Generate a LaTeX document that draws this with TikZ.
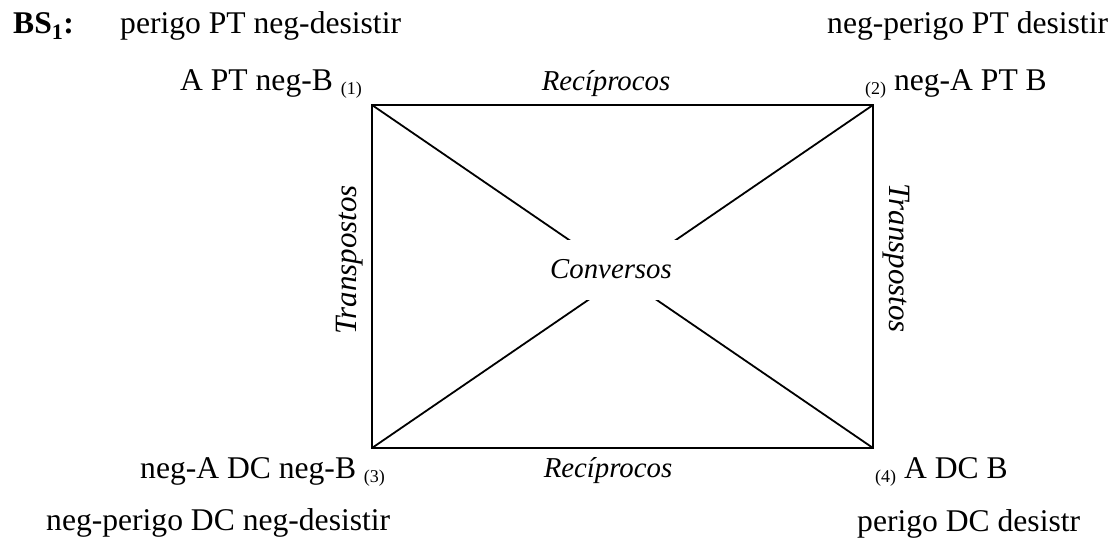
\documentclass[tikz,border=0pt]{standalone}
\usepackage{fontspec}
\setmainfont{Liberation Serif}
\begin{document}
\begin{tikzpicture}[x=1pt,y=-1pt,
  lbl/.style={inner sep=0pt, font=\fontsize{31.6}{36}\selectfont},
  ital/.style={inner sep=0pt, font=\fontsize{28.8}{34}\selectfont\itshape},
  edge/.style={line width=1.8pt, line cap=round, line join=miter}]
\useasboundingbox (0,0) rectangle (1117,541);
\newcommand{\idx}[1]{{\fontsize{18}{20}\selectfont\raisebox{-4pt}{#1}}}
% corners
\coordinate (tl) at (372,105);
\coordinate (tr) at (873,105);
\coordinate (bl) at (372,448);
\coordinate (br) at (873,448);
% header
\node[lbl, anchor=base west] (bs) at (13,33) {\textbf{BS\textsubscript{1}:}};
\node[lbl, anchor=base west] (h1) at (120,33) {perigo PT neg-desistir};
\node[lbl, anchor=base west] (h2) at (827,33) {neg-perigo PT desistir};
% corner labels
\node[lbl, anchor=base west] (c1) at (180,90) {A PT neg-B \idx{(1)}};
\node[lbl, anchor=base west] (c2) at (865,90) {\idx{(2)} neg-A PT B};
\node[lbl, anchor=base west] (c3) at (140,478) {neg-A DC neg-B \idx{(3)}};
\node[lbl, anchor=base west] (c4) at (875,478) {\idx{(4)} A DC B};
% footer
\node[lbl, anchor=base west] (f1) at (46,530) {neg-perigo DC neg-desistir};
\node[lbl, anchor=base west] (f2) at (857,531) {perigo DC desistr};
% square
\draw[edge] (tl) -- (tr) -- (br) -- (bl) -- cycle;
\draw[edge] (tl) -- (br);
\draw[edge] (tr) -- (bl);
\node[fill=white, inner sep=0pt, minimum width=135pt, minimum height=60pt] (gap) at (622.5,270) {};
\node[ital, anchor=base] (conv) at (611,278) {Conversos};
% side labels
\node[ital, anchor=base] (rtop) at (606,90) {Recíprocos};
\node[ital, anchor=base] (rbot) at (608,477) {Recíprocos};
\node[ital, font=\fontsize{31}{36}\selectfont\itshape, anchor=base, rotate=90] (tleft) at (356,260) {Transpostos};
\node[ital, font=\fontsize{31}{36}\selectfont\itshape, anchor=base, rotate=-90] (tright) at (889,258) {Transpostos};
\end{tikzpicture}
\end{document}
